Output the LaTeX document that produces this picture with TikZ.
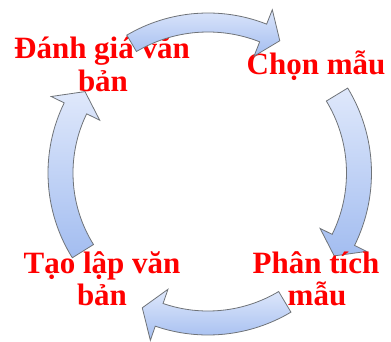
\documentclass[tikz,border=0pt]{standalone}
\usepackage{fontspec}
\setmainfont{Liberation Serif}

% curved arrow along a circle: tail angle, head-base angle, tip angle,
% mid radius, half body width, half head width
\newcommand\cyclearrow[6]{%
  \pgfmathsetmacro\arOut{#4+#5}%
  \pgfmathsetmacro\arIn{#4-#5}%
  \pgfmathsetmacro\arHo{#4+#6}%
  \pgfmathsetmacro\arHi{#4-#6}%
  \draw[arrowbody] (#1:\arOut pt)
    arc[start angle=#1, end angle=#2, radius=\arOut pt]
    -- (#2:\arHo pt) -- (#3:#4pt) -- (#2:\arHi pt) -- (#2:\arIn pt)
    arc[start angle=#2, end angle=#1, radius=\arIn pt] -- cycle;}

\definecolor{arrowlight}{HTML}{DFE8FB}
\definecolor{arrowdark}{HTML}{A3BDF0}
\definecolor{arrowline}{HTML}{6F7378}

\tikzset{
  label/.style={text=red, font=\fontsize{31}{34}\selectfont\bfseries,
    inner sep=0pt, anchor=base},
  arrowbody/.style={draw=arrowline, line width=0.8pt, line join=miter,
    top color=arrowlight, bottom color=arrowdark},
  ring/.style={shift={(208,173)}, x=1pt, y=1pt}
}

\begin{document}
\begin{tikzpicture}[x=1pt, y=-1pt]
  \useasboundingbox (0,0) rectangle (391,342);

  % each stage, then the arrow leading out of it
  \node[label] (pick) at (316,75) {Chọn mẫu};
  \begin{scope}[ring]
    \cyclearrow{31.3}{-26.3}{-33.3}{151}{12.5}{26}
  \end{scope}

  \node[label] (anal1) at (316,273) {Phân tích};
  \node[label] (anal2) at (317,305) {mẫu};
  \begin{scope}[ring]
    \cyclearrow{-59.2}{-109}{-116}{150}{12}{27}
  \end{scope}

  \node[label] (make1) at (102,273) {Tạo lập văn};
  \node[label] (make2) at (102,305) {bản};
  \begin{scope}[ring]
    \cyclearrow{212}{154}{146.5}{147.5}{12.5}{27}
  \end{scope}

  \node[label] (eval1) at (102,59) {Đánh giá văn};
  \node[label] (eval2) at (103,92) {bản};
  \begin{scope}[ring]
    \cyclearrow{120.5}{68.5}{61.5}{150.5}{9.5}{25}
  \end{scope}
\end{tikzpicture}
\end{document}
